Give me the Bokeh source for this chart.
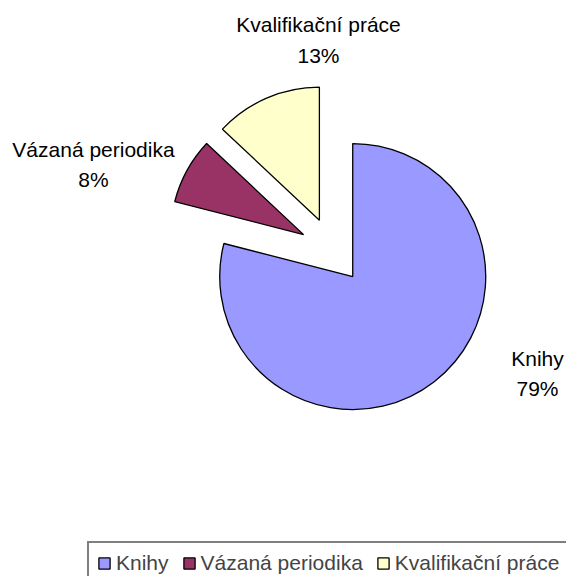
import math
from bokeh.plotting import figure
from bokeh.models import ColumnDataSource, Range1d, Legend, LegendItem
from bokeh.core.properties import value
from bokeh.embed import file_html
from bokeh.resources import INLINE

# ---- data ----
categories = ["Knihy", "Vázaná periodika", "Kvalifikační práce"]
values = [79, 8, 13]
colors = ["#9999FF", "#993366", "#FFFFCC"]

# ---- layout constants (reference screen pixels) ----
W, H = 566, 576
CX, CY_SCREEN = 332.0, 250.0
RADIUS = 133.0
EXPLODE = 33.0
label_x = [537, 93, 318]
label_name_y = [358, 149, 24]
label_pct_y = [388, 179, 55]
FONT = "Liberation Sans"

def sy(y):
    return H - y

total = float(sum(values))
xs, ys, starts, ends, pct = [], [], [], [], []
cum = 0.0
for v in values:
    a0 = cum / total * 360.0
    a1 = (cum + v) / total * 360.0
    cum += v
    mid = math.radians(90.0 - (a0 + a1) / 2.0)
    xs.append(CX + EXPLODE * math.cos(mid))
    ys.append(sy(CY_SCREEN) + EXPLODE * math.sin(mid))
    starts.append(math.radians(90.0 - a1))
    ends.append(math.radians(90.0 - a0))
    pct.append(f"{v}%")

src = ColumnDataSource(dict(x=xs, y=ys, start=starts, end=ends, color=colors,
                            name=categories, pct=pct,
                            lx=label_x, ny=[sy(v) for v in label_name_y],
                            py=[sy(v) for v in label_pct_y]))

p = figure(width=W, height=H, x_range=Range1d(0, W), y_range=Range1d(0, H),
           output_backend="svg", toolbar_location=None, min_border=0,
           background_fill_color="white", border_fill_color="white")
p.axis.visible = False
p.grid.visible = False
p.outline_line_color = None

r = p.wedge(x="x", y="y", radius=RADIUS, start_angle="start", end_angle="end",
            fill_color="color", line_color="black", line_width=1.3, source=src)

p.text(x="lx", y="ny", text="name", source=src, text_align="center",
       text_baseline="middle", text_font=value(FONT), text_font_size="21px",
       text_color="black")
p.text(x="lx", y="py", text="pct", source=src, text_align="center",
       text_baseline="middle", text_font=value(FONT), text_font_size="21px",
       text_color="black")

legend = Legend(items=[LegendItem(label=c, renderers=[r], index=i) for i, c in enumerate(categories)],
                orientation="horizontal", location=(87, -9),
                label_text_font=FONT, label_text_font_size="21px",
                glyph_width=14, glyph_height=14, label_standoff=5, spacing=13,
                padding=8, margin=0, border_line_color="black", border_line_width=2,
                background_fill_color="white", background_fill_alpha=1.0)
p.add_layout(legend)

open("out.html", "w").write(file_html(p, INLINE))
